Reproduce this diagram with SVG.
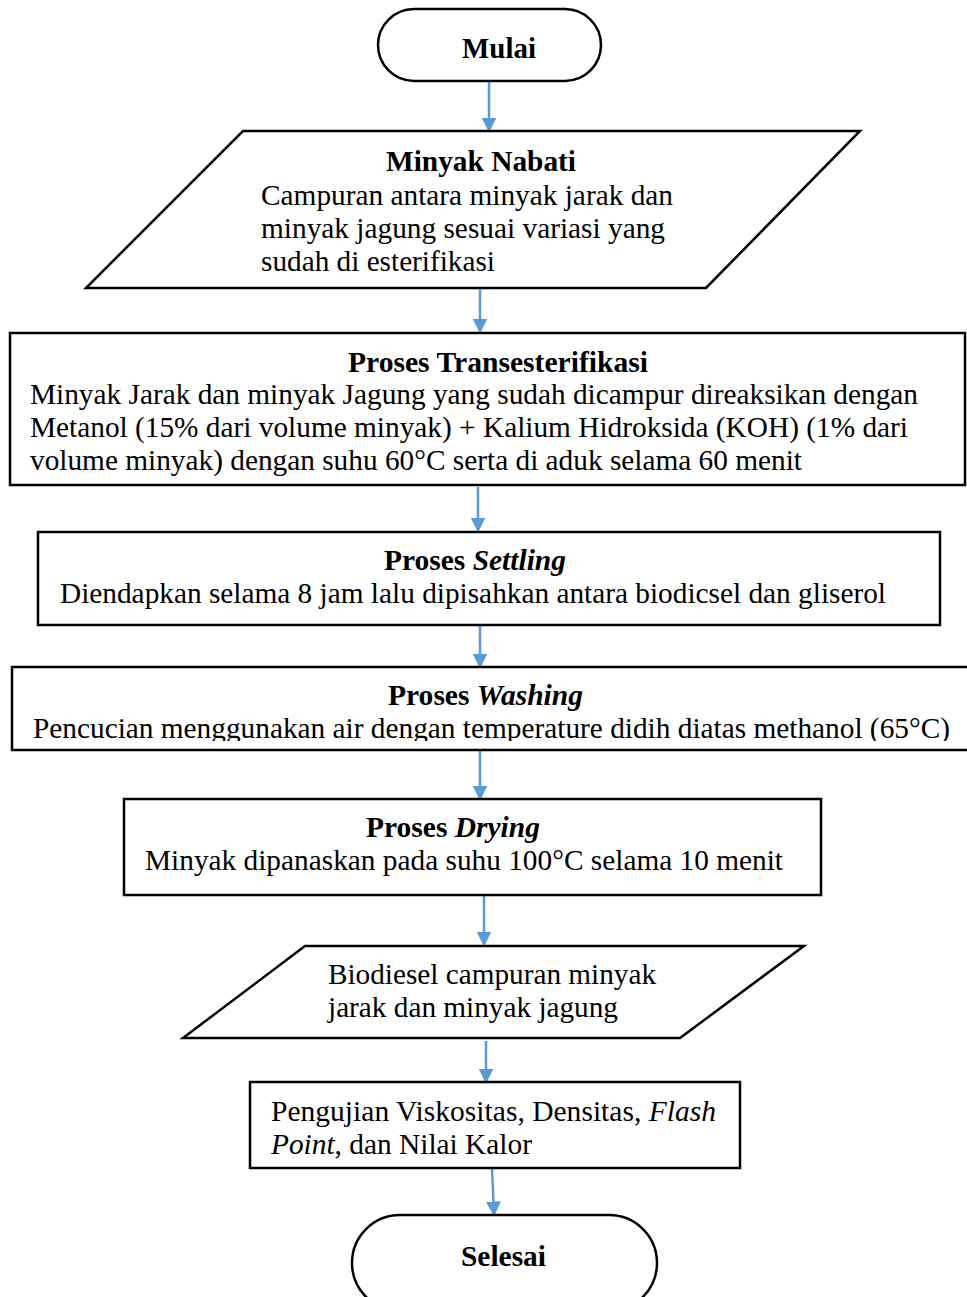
<svg xmlns="http://www.w3.org/2000/svg" width="967" height="1297" viewBox="0 0 967 1297">
<style>
.s{fill:#fff;stroke:#000;stroke-width:2.5}
.t{font-family:'Liberation Serif','Times New Roman',serif;font-size:29px;fill:#000}
.b{font-weight:bold}
.i{font-style:italic}
.c{stroke:#5B9BD5;stroke-width:2.5;fill:none}
</style>
<defs>
<marker id="ah" markerWidth="6" markerHeight="6" refX="5" refY="3" orient="auto" markerUnits="strokeWidth">
<path d="M0,0 L6,3 L0,6 Z" fill="#5B9BD5"/>
</marker>
<clipPath id="clip3"><rect x="0" y="330" width="967" height="146"/></clipPath>
<clipPath id="clip5"><rect x="0" y="660" width="967" height="81"/></clipPath>
</defs>
<g id="connectors">
<line class="c" x1="489" y1="82" x2="489" y2="130" marker-end="url(#ah)"/>
<line class="c" x1="480" y1="289" x2="480" y2="331" marker-end="url(#ah)"/>
<line class="c" x1="478" y1="487" x2="478" y2="530" marker-end="url(#ah)"/>
<line class="c" x1="480" y1="626" x2="480" y2="666" marker-end="url(#ah)"/>
<line class="c" x1="480" y1="751" x2="480" y2="798" marker-end="url(#ah)"/>
<line class="c" x1="484" y1="896" x2="484" y2="944" marker-end="url(#ah)"/>
<line class="c" x1="486" y1="1041" x2="486" y2="1081" marker-end="url(#ah)"/>
<line class="c" x1="492" y1="1169" x2="494" y2="1214" marker-end="url(#ah)"/>
</g>
<g id="mulai">
<rect class="s" x="378" y="9" width="223" height="72" rx="36"/>
<text class="t b" x="462" y="58" textLength="74" lengthAdjust="spacingAndGlyphs">Mulai</text>
</g>
<g id="minyak-nabati">
<polygon class="s" points="243,131 860,131 706,288 86,288"/>
<text class="t b" x="386" y="171" textLength="190" lengthAdjust="spacingAndGlyphs">Minyak Nabati</text>
<text class="t" x="261" y="205" textLength="412" lengthAdjust="spacingAndGlyphs">Campuran antara minyak jarak dan</text>
<text class="t" x="261" y="238" textLength="404" lengthAdjust="spacingAndGlyphs">minyak jagung sesuai variasi yang</text>
<text class="t" x="261" y="271" textLength="234" lengthAdjust="spacingAndGlyphs">sudah di esterifikasi</text>
</g>
<g id="transesterifikasi">
<rect class="s" x="10" y="333" width="955" height="152"/>
<text class="t b" x="348" y="372" textLength="300" lengthAdjust="spacingAndGlyphs">Proses Transesterifikasi</text>
<text class="t" x="30" y="404" textLength="888" lengthAdjust="spacingAndGlyphs">Minyak Jarak dan minyak Jagung yang sudah dicampur direaksikan dengan</text>
<text class="t" x="30" y="437" textLength="878" lengthAdjust="spacingAndGlyphs">Metanol (15% dari volume minyak) + Kalium Hidroksida (KOH) (1% dari</text>
<g clip-path="url(#clip3)">
<text class="t" x="30" y="470" textLength="772" lengthAdjust="spacingAndGlyphs">volume minyak) dengan suhu 60°C serta di aduk selama 60 menit</text>
</g>
</g>
<g id="settling">
<rect class="s" x="38" y="532" width="902" height="93"/>
<text class="t b" x="384" y="570" textLength="182" lengthAdjust="spacingAndGlyphs">Proses <tspan class="i">Settling</tspan></text>
<text class="t" x="60" y="603" textLength="826" lengthAdjust="spacingAndGlyphs">Diendapkan selama 8 jam lalu dipisahkan antara biodicsel dan gliserol</text>
</g>
<g id="washing">
<rect class="s" x="12" y="667" width="960" height="83"/>
<text class="t b" x="388" y="705" textLength="195" lengthAdjust="spacingAndGlyphs">Proses <tspan class="i">Washing</tspan></text>
<g clip-path="url(#clip5)">
<text class="t" x="33" y="738" textLength="917" lengthAdjust="spacingAndGlyphs">Pencucian menggunakan air dengan temperature didih diatas methanol (65°C)</text>
</g>
</g>
<g id="drying">
<rect class="s" x="124" y="799" width="697" height="96"/>
<text class="t b" x="366" y="837" textLength="174" lengthAdjust="spacingAndGlyphs">Proses <tspan class="i">Drying</tspan></text>
<text class="t" x="145" y="870" textLength="638" lengthAdjust="spacingAndGlyphs">Minyak dipanaskan pada suhu 100°C selama 10 menit</text>
</g>
<g id="biodiesel">
<polygon class="s" points="305,946 804,946 680,1038 183,1038"/>
<text class="t" x="328" y="984" textLength="328" lengthAdjust="spacingAndGlyphs">Biodiesel campuran minyak</text>
<text class="t" x="328" y="1017" textLength="290" lengthAdjust="spacingAndGlyphs">jarak dan minyak jagung</text>
</g>
<g id="pengujian">
<rect class="s" x="250" y="1082" width="490" height="86"/>
<text class="t" x="271" y="1121" textLength="445" lengthAdjust="spacingAndGlyphs">Pengujian Viskositas, Densitas, <tspan class="i">Flash</tspan></text>
<text class="t" x="271" y="1154" textLength="261" lengthAdjust="spacingAndGlyphs"><tspan class="i">Point</tspan>, dan Nilai Kalor</text>
</g>
<g id="selesai">
<rect class="s" x="352" y="1215" width="305" height="96" rx="48"/>
<text class="t b" x="461" y="1266" textLength="85" lengthAdjust="spacingAndGlyphs">Selesai</text>
</g>
</svg>
